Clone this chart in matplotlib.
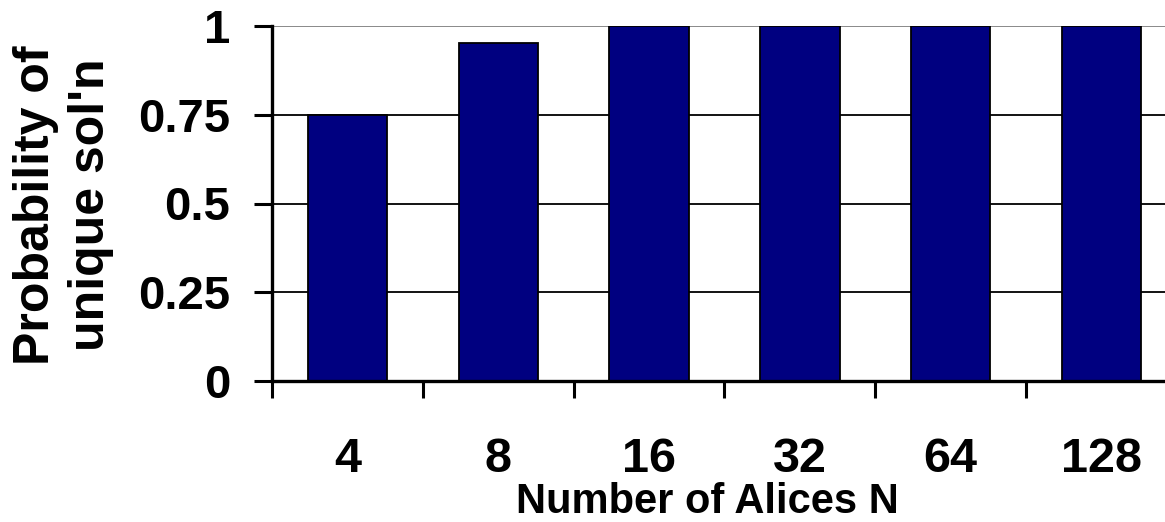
import matplotlib
matplotlib.use("Agg")
import matplotlib.pyplot as plt
import numpy as np

# Probability of a unique solution versus the number of Alices
alice_counts = ["4", "8", "16", "32", "64", "128"]
prob_unique = [0.75, 0.953, 1.0, 1.0, 1.0, 1.0]
y_ticks = [0, 0.25, 0.5, 0.75, 1]
y_tick_labels = ["0", "0.25", "0.5", "0.75", "1"]

plt.rcParams["font.family"] = ["Liberation Sans", "DejaVu Sans"]
plt.rcParams["font.weight"] = "bold"

W, H = 1165, 522
fig = plt.figure(figsize=(W / 100, H / 100), dpi=100)
fig.patch.set_facecolor("white")

# axes box in pixel units (right edge runs past the canvas)
left, bottom, right, top = 272, 381, 1177, 26
ax = fig.add_axes([left / W, 1 - bottom / H, (right - left) / W, (bottom - top) / H])

x = np.arange(len(alice_counts))
ax.bar(x, prob_unique, width=0.525, color="#000080", edgecolor="black",
       linewidth=1.3, zorder=3)

ax.set_xlim(-0.5, len(alice_counts) - 0.5)
ax.set_ylim(0, 1)

# horizontal grid lines
for yv in y_ticks[1:]:
    ax.axhline(yv, color="#808080" if yv == 1 else "black", linewidth=1.3, zorder=1)

ax.set_yticks(y_ticks)
ax.set_yticklabels(y_tick_labels, fontsize=34, fontweight="bold")
ax.tick_params(axis="y", direction="out", length=13, width=2.2, pad=17)

ax.set_xticks(x)
ax.set_xticklabels(alice_counts, fontsize=35, fontweight="bold")
ax.tick_params(axis="x", which="major", length=0, pad=40)
ax.set_xticks(np.arange(-0.5, len(alice_counts) - 0.5, 1.0), minor=True)
ax.tick_params(axis="x", which="minor", direction="out", length=12.5, width=2.2)

for side in ("top", "right"):
    ax.spines[side].set_visible(False)
for side in ("left", "bottom"):
    ax.spines[side].set_linewidth(2.4)
    ax.spines[side].set_zorder(4)

fig.text(707 / W, 0.0, "Number of Alices N", ha="center", va="bottom",
         fontsize=30, fontweight="bold")
fig.text(64 / W, 1 - 205 / H, "Probability of\nunique sol'n", ha="center",
         va="center", rotation=90, fontsize=36, fontweight="bold",
         linespacing=1.25)

fig.savefig("out.png", dpi=100, facecolor="white")
